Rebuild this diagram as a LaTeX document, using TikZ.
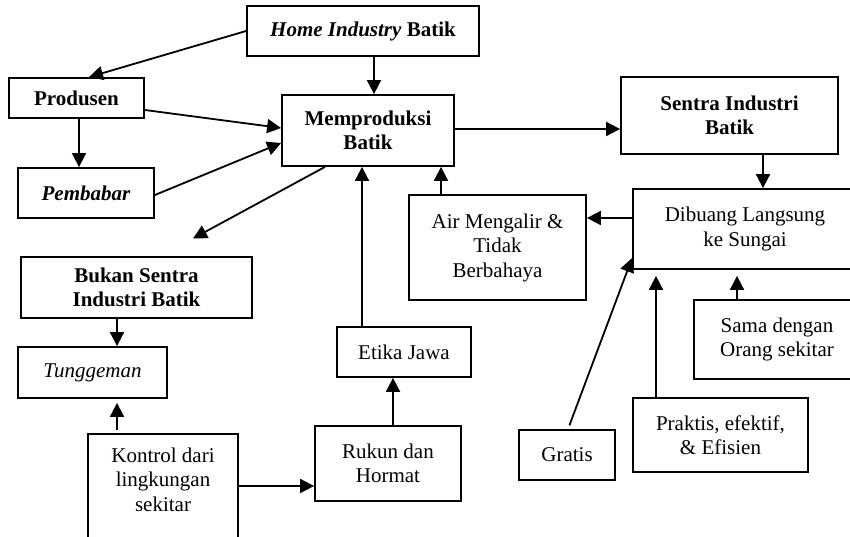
\documentclass[tikz,border=0pt]{standalone}
\usepackage{fontspec}
\setmainfont{Liberation Serif}
\usetikzlibrary{arrows.meta}
\begin{document}
\begin{tikzpicture}[x=1pt, y=-1pt, line width=1.8pt,
        main/.style ={draw, rectangle, inner sep=0pt, align=center,
            font=\fontsize{21}{24.5}\selectfont},
        arr/.style ={-{Triangle[length=14pt, width=14pt]}}]
    \useasboundingbox (0,0) rectangle (850,537);
    \clip (0,0) rectangle (850,537);
    \node[main, minimum width=232pt, minimum height=50pt] (home) at (363,31) {\textbf{\textit{Home Industry} Batik}};
    \node[main, minimum width=172pt, minimum height=71pt] (mem) at (368,130.5) {\textbf{Memproduksi}\\\textbf{Batik}};
    \node[main, minimum width=217pt, minimum height=77pt] (sentra) at (729.5,115.5) {\textbf{Sentra Industri}\\\textbf{Batik}};
    \node[main, minimum width=224pt, minimum height=80pt] (dibuang) at (745,229) {Dibuang Langsung\\ke Sungai};
    \node[main, minimum width=177pt, minimum height=105pt] (air) at (497.5,247.5) {Air Mengalir \&\\Tidak\\Berbahaya};
    \node[main, minimum width=166pt, minimum height=79pt] (sama) at (777,339.5) {Sama dengan\\Orang sekitar};
    \node[main, minimum width=175pt, minimum height=74pt] (praktis) at (720.5,435) {Praktis, efektif,\\\& Efisien};
    \node[main, minimum width=96pt, minimum height=50pt] (gratis) at (567,455) {Gratis};
    \node[main, minimum width=134pt, minimum height=50pt] (etika) at (404,352) {Etika Jawa};
    \node[main, minimum width=146pt, minimum height=75pt] (rukun) at (388,463.5) {Rukun dan\\Hormat};
    \node[main, minimum width=150pt, inner ysep=14pt, text depth=70pt, anchor=north] (kontrol) at (163,433) {Kontrol dari\\lingkungan\\sekitar};
    \node[main, minimum width=149pt, minimum height=51pt] (tung) at (92.5,372.5) {\textit{Tunggeman}};
    \node[main, minimum width=231pt, minimum height=61pt] (bukan) at (136.5,287.5) {\textbf{Bukan Sentra}\\\textbf{Industri Batik}};
    \node[main, minimum width=135pt, minimum height=40pt] (produsen) at (76.5,98) {\textbf{Produsen}};
    \node[main, minimum width=136pt, minimum height=50pt] (pembabar) at (86,193) {\textbf{\textit{Pembabar}}};
    \draw[arr] (home.west) -- ([xshift=12.5pt]produsen.north);
    \draw[arr] ([xshift=11pt]home.south) -- ([xshift=11pt]home.south |- mem.north);
    \draw[arr] ([yshift=-12pt]produsen.east) -- ([yshift=2.5pt]mem.west);
    \draw[arr] ([yshift=-2pt]pembabar.east) -- ([yshift=-12.5pt]mem.west);
    \draw[arr] ([xshift=2.5pt]produsen.south) -- ([xshift=2.5pt]produsen.south |- pembabar.north);
    \draw[arr, shorten >=37pt] ([xshift=-43pt]mem.south) -- ([xshift=24pt]bukan.north);
    \draw[arr] ([yshift=1.5pt]mem.east) -- ([yshift=1.5pt]mem.east -| sentra.west);
    \draw[arr] ([xshift=33.5pt]sentra.south) -- ([xshift=33.5pt]sentra.south |- dibuang.north);
    \draw[arr] ([yshift=11pt]dibuang.west) -- ([yshift=11pt]dibuang.west -| air.east);
    \draw[arr] ([xshift=-56.5pt]air.north) -- ([xshift=-56.5pt]air.north |- mem.south);
    \draw[arr, shorten >=6pt] ([xshift=-40pt]sama.north) -- ([xshift=-40pt]sama.north |- dibuang.south);
    \draw[arr, shorten >=6pt] ([xshift=-64.5pt]praktis.north) -- ([xshift=-64.5pt]praktis.north |- dibuang.south);
    \draw[arr, shorten <=4pt] ([xshift=1pt]gratis.north) -- ([yshift=-29pt]dibuang.west);
    \draw[arr] ([xshift=-42pt]etika.north) -- ([xshift=-42pt]etika.north |- mem.south);
    \draw[arr] ([xshift=5pt]rukun.north) -- ([xshift=5pt]rukun.north |- etika.south);
    \draw[arr] ([yshift=-22.5pt]rukun.west -| kontrol.east) -- ([yshift=-22.5pt]rukun.west);
    \draw[arr, shorten <=3pt, shorten >=4pt] ([xshift=-46pt]kontrol.north) -- ([xshift=-46pt]kontrol.north |- tung.south);
    \draw[arr] ([xshift=-19.5pt]bukan.south) -- ([xshift=-19.5pt]bukan.south |- tung.north);
\end{tikzpicture}
\end{document}
